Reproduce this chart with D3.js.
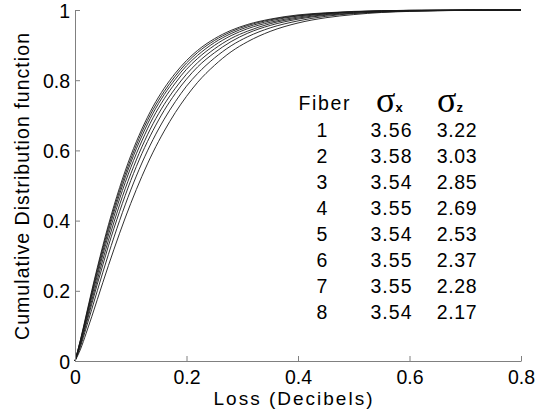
<!DOCTYPE html>
<html><head><meta charset="utf-8">
<script src="https://cdn.jsdelivr.net/npm/d3@7/dist/d3.min.js"></script>
<style>
body{margin:0;background:#fff;}
text{font-family:"Liberation Sans",Arial,sans-serif;fill:#000;}
</style></head>
<body><svg id="c" width="544" height="414"></svg>
<script>
const lossX = [0,.01,.02,.03,.04,.05,.06,.08,.10,.12,.14,.16,.18,.20,.22,.25,.28,.31,.35,.40,.45,.50,.55,.60,.70,.80];
const fiber1 = [0,.062,.131,.200,.266,.329,.388,.494,.585,.661,.725,.777,.820,.856,.885,.918,.942,.959,.974,.986,.992,.996,.998,.999,1,1];
const fiber2 = [0,.060,.127,.195,.260,.322,.380,.485,.575,.652,.716,.768,.812,.849,.879,.913,.938,.956,.972,.984,.991,.995,.998,.999,1,1];
const fiber3 = [0,.058,.123,.189,.252,.313,.371,.475,.565,.641,.706,.759,.803,.841,.871,.907,.933,.952,.969,.983,.990,.995,.997,.999,1,1];
const fiber4 = [0,.055,.118,.182,.243,.303,.359,.462,.551,.627,.693,.747,.792,.831,.862,.899,.927,.947,.965,.980,.989,.994,.997,.998,1,1];
const fiber5 = [0,.051,.111,.172,.231,.289,.344,.445,.533,.610,.676,.731,.777,.817,.850,.889,.919,.940,.961,.977,.987,.993,.996,.998,.999,1];
const fiber6 = [0,.047,.104,.162,.219,.274,.328,.426,.514,.591,.657,.714,.762,.803,.838,.878,.910,.934,.956,.974,.985,.991,.995,.997,.999,1];
const fiber7 = [0,.042,.094,.147,.200,.253,.304,.400,.487,.564,.631,.689,.739,.783,.819,.863,.898,.924,.949,.969,.982,.990,.994,.997,.999,1];
const fiber8 = [0,.034,.079,.126,.175,.224,.272,.364,.449,.526,.595,.655,.708,.754,.794,.842,.881,.910,.939,.963,.978,.987,.993,.996,.999,1];
const series = [fiber1,fiber2,fiber3,fiber4,fiber5,fiber6,fiber7,fiber8];

const xTicks = [0,0.2,0.4,0.6,0.8];
const yTicks = [0,0.2,0.4,0.6,0.8,1];
const tableFiber = ["1","2","3","4","5","6","7","8"];
const tableSx = ["3.56","3.58","3.54","3.55","3.54","3.55","3.55","3.54"];
const tableSz = ["3.22","3.03","2.85","2.69","2.53","2.37","2.28","2.17"];

const svg = d3.select("#c");
const x = d3.scaleLinear().domain([0,0.8]).range([75,521]);
const y = d3.scaleLinear().domain([0,1]).range([361,10]);
const axisCol = "#808080";

// curves
const line = d3.line().x((d,i)=>x(lossX[i])).y(d=>y(d)).curve(d3.curveMonotoneX);
svg.append("g").selectAll("path").data(series).join("path")
  .attr("d", line).attr("fill","none").attr("stroke","#1a1a1a").attr("stroke-width",0.9);

// x axis
const gx = svg.append("g").attr("transform","translate(0,361)")
  .call(d3.axisBottom(x).tickValues(xTicks).tickSizeInner(-5).tickSizeOuter(0).tickFormat(d=>d===0?"0":d3.format(".1f")(d)));
gx.select(".domain").attr("stroke",axisCol);
gx.selectAll(".tick line").attr("stroke",axisCol);
gx.selectAll(".tick text").attr("font-size",19.5).attr("font-family","Liberation Sans, Arial, sans-serif").attr("y",9).attr("dy","0.71em").attr("fill","#000");

// y axis
const gy = svg.append("g").attr("transform","translate(75,0)")
  .call(d3.axisLeft(y).tickValues(yTicks).tickSizeInner(-5).tickSizeOuter(0).tickFormat(d=>(d===0||d===1)?String(d):d3.format(".1f")(d)));
gy.select(".domain").attr("stroke",axisCol);
gy.selectAll(".tick line").attr("stroke",axisCol);
gy.selectAll(".tick text").attr("font-size",19.5).attr("font-family","Liberation Sans, Arial, sans-serif").attr("x",-5).attr("dy","0.36em").attr("fill","#000");

// axis labels
svg.append("text").attr("x",293).attr("y",405).attr("text-anchor","middle")
  .attr("font-size",19).attr("textLength",159).attr("lengthAdjust","spacing").text("Loss (Decibels)");
svg.append("text").attr("transform","translate(29,186.5) rotate(-90)").attr("text-anchor","middle")
  .attr("font-size",19.5).attr("textLength",307).attr("lengthAdjust","spacing").text("Cumulative Distribution function");

// table
const tg = svg.append("g");
tg.append("text").attr("x",324).attr("y",110).attr("text-anchor","middle").attr("font-size",19.5)
  .attr("textLength",51).attr("lengthAdjust","spacing").text("Fiber");
const sig = (cx,sub)=>{
  const t = tg.append("text").attr("x",cx).attr("y",111.5).attr("text-anchor","start");
  t.append("tspan").attr("font-family","Liberation Serif, Times New Roman, serif").attr("font-size",36).text("σ");
  t.append("tspan").attr("font-size",13).attr("font-weight","bold").attr("dx",0).text(sub);
};
sig(376,"x");
sig(437,"z");
const rowY = i => 136.7 + i*26.1;
tg.selectAll("text.f").data(tableFiber).join("text").attr("class","f")
  .attr("x",322).attr("y",(d,i)=>rowY(i)).attr("text-anchor","middle").attr("font-size",19.5).text(d=>d);
tg.selectAll("text.sx").data(tableSx).join("text").attr("class","sx")
  .attr("x",391).attr("y",(d,i)=>rowY(i)).attr("text-anchor","middle").attr("font-size",19.5)
  .attr("textLength",41).attr("lengthAdjust","spacing").text(d=>d);
tg.selectAll("text.sz").data(tableSz).join("text").attr("class","sz")
  .attr("x",456.7).attr("y",(d,i)=>rowY(i)).attr("text-anchor","middle").attr("font-size",19.5)
  .attr("textLength",40).attr("lengthAdjust","spacing").text(d=>d);
</script></body></html>
